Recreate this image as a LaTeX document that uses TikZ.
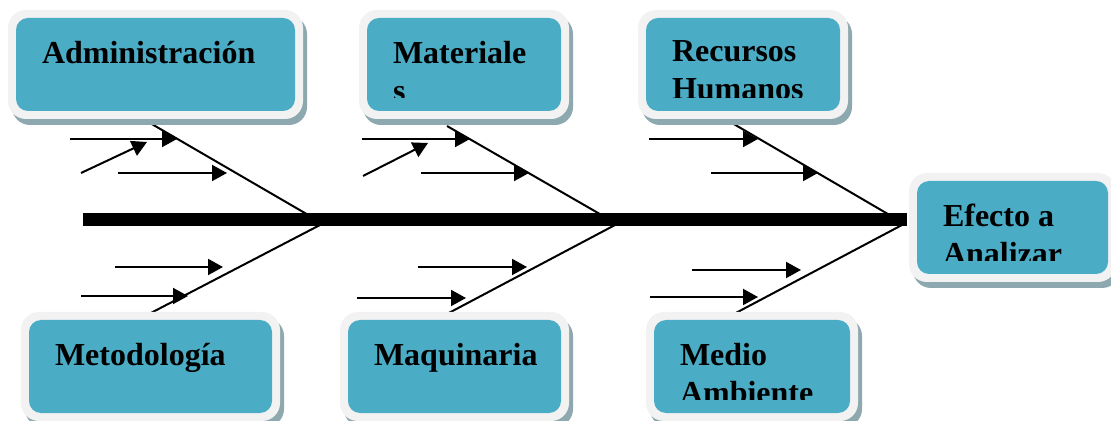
\documentclass[tikz,border=0pt]{standalone}
\usepackage{fontspec}
\setmainfont{Liberation Serif}
\usetikzlibrary{arrows.meta}
\definecolor{turquesa}{HTML}{4BACC6}
\definecolor{borde}{HTML}{F2F2F2}
\definecolor{sombra}{HTML}{8EA8AF}

\begin{document}
\begin{tikzpicture}[x=0.5pt,y=-0.5pt,line width=1pt,>={Triangle[length=7.5pt,width=8pt]},
  texto/.style={anchor=north west,inner sep=0pt,align=left,font=\fontsize{16}{19}\selectfont\bfseries}]
  \useasboundingbox (0,0) rectangle (1111,421);
  % espina
  \coordinate (esp-i) at (83,220);
  \coordinate (esp-f) at (907,220);
  \draw[line width=6.5pt] (esp-i) -- (esp-f);
  % huesos
  \foreach \n/\xa/\ya/\xb/\yb in {u1/150/123/310/216, l1/320/225/147/315,
      u2/447/126/605/217, l2/615/225/445/315,
      u3/732/123/893/217, l3/902/225/732/315}{
    \coordinate (\n-i) at (\xa,\ya);
    \coordinate (\n-f) at (\xb,\yb);
    \draw (\n-i) -- (\n-f);
  }
  % causas secundarias
  \foreach \n/\xa/\ya/\xb/\yb in {f11/70/139/177/139, f12/81/173/147/142, f13/118/173/227/173,
      f14/115/267/223/267, f15/81/296/188/296,
      f21/362/139/470/139, f22/363/176/428/143, f23/421/173/529/173,
      f24/418/267/527/267, f25/357/298/466/298,
      f31/649/139/758/139, f33/711/173/818/173,
      f34/692/270/801/270, f35/650/297/758/297}{
    \coordinate (\n-i) at (\xa,\ya);
    \coordinate (\n-f) at (\xb,\yb);
    \draw[->] (\n-i) -- (\n-f);
  }
  % cajas
  \foreach \n/\xa/\ya/\xb/\yb/\txt in {adm/16/18/295/111/{Administración},
      mat/367/18/561/111/{Materiale\\s},
      rh/646/18/840/111/{Recursos\\Humanos},
      efe/917/181/1108/274/{Efecto a\\Analizar},
      met/29/320/272/413/{Metodología},
      maq/348/320/561/413/{Maquinaria},
      med/654/320/850/413/{Medio\\Ambiente}}{
    \fill[sombra,rounded corners=9pt] (\xa-4,\ya-2) rectangle (\xb+12,\yb+14);
    \fill[borde,rounded corners=9pt] (\xa-8,\ya-8) rectangle (\xb+8,\yb+8);
    \fill[turquesa,rounded corners=6pt] (\xa,\ya) rectangle (\xb,\yb);
    \begin{scope}
      \clip (\xa,\ya) rectangle (\xb,\ya+79.5);
      \node[texto] (\n) at (\xa+25,\ya+22) {\txt};
    \end{scope}
  }
\end{tikzpicture}
\end{document}
